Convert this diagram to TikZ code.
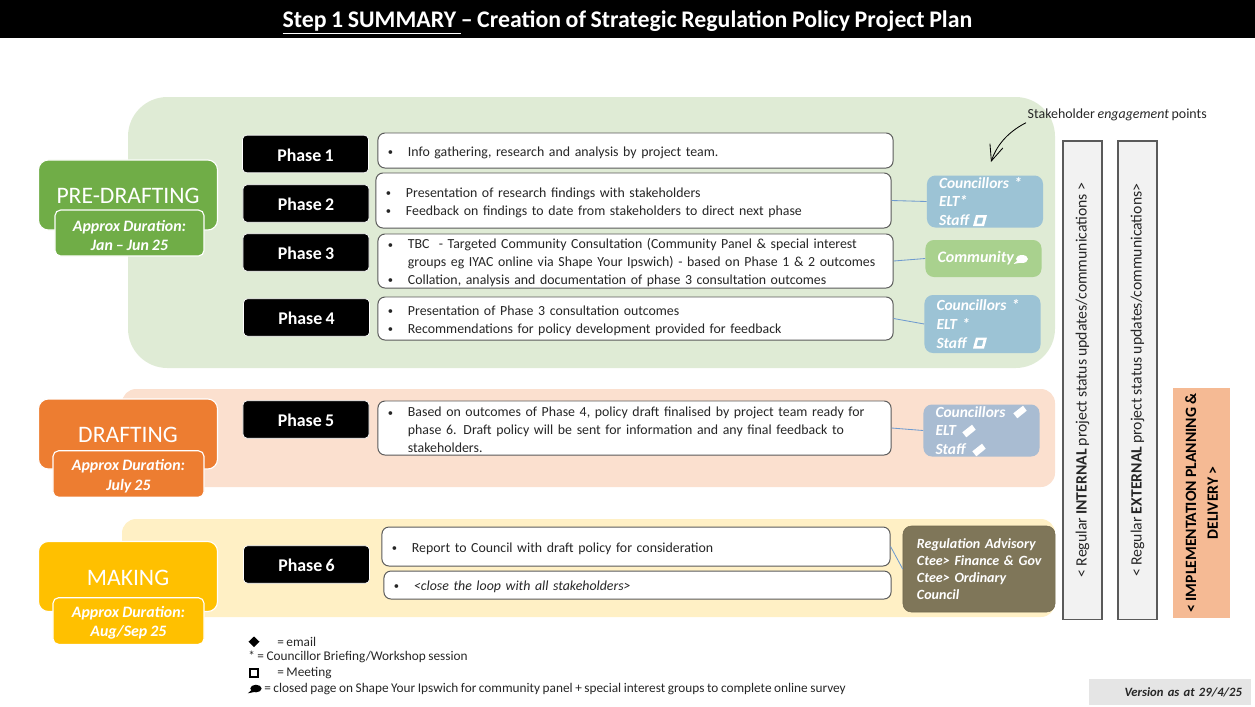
\documentclass[tikz,border=0pt]{standalone}
\usepackage{fontspec}
\setmainfont[WordSpace=0.85]{Carlito}
\usetikzlibrary{arrows.meta,positioning,calc}

\definecolor{panelgreen}{HTML}{DFEBD5}
\definecolor{panelpeach}{HTML}{FBE0CF}
\definecolor{panelyellow}{HTML}{FFF0C5}
\definecolor{stagegreen}{HTML}{70AD47}
\definecolor{stageorange}{HTML}{ED7D31}
\definecolor{stageyellow}{HTML}{FFC000}
\definecolor{stakeblue}{HTML}{9CC3D5}
\definecolor{stakegreen}{HTML}{A9D18E}
\definecolor{stakesteel}{HTML}{A9BCD2}
\definecolor{stakebrown}{HTML}{7F7659}
\definecolor{edgegray}{HTML}{5A5A5A}
\definecolor{linkblue}{HTML}{6F9BCF}
\definecolor{inkgray}{HTML}{262626}
\definecolor{implpeach}{HTML}{F5BA94}

\newcommand{\bul}{\makebox[0.5cm][l]{\fontsize{7.5}{8}\selectfont\raisebox{0.6pt}{\textbullet}}}
\newcommand{\nobul}{\hspace*{0.5cm}}
\newcommand{\durstrut}{\rule{0pt}{11pt}}

\tikzset{
    stagebox/.style={draw=white, line width=0.8pt, rounded corners=7pt, text=white,
        minimum width=4.475cm, minimum height=1.75cm, text height=12.3pt, text depth=0pt,
        font=\fontsize{16.8}{18}\selectfont},
    durationbox/.style={draw=white, line width=0.8pt, rounded corners=4pt, text=white, align=center,
        minimum height=1.15cm, font=\fontsize{11.3}{13.6}\selectfont\bfseries\itshape},
    phasebox/.style={draw=white, line width=0.5pt, fill=black, rounded corners=3pt, text=white,
        minimum width=3.15cm, minimum height=0.94cm, text height=10pt, text depth=0pt,
        font=\fontsize{12.7}{14}\selectfont\bfseries},
    infobox/.style={draw=edgegray, line width=0.7pt, fill=white, rounded corners=5pt, align=left,
        inner xsep=0.25cm, inner ysep=0pt, text width=12.375cm, text=inkgray,
        execute at begin node={\leavevmode\rule{0pt}{9.8pt}},
        font=\fontsize{9.85}{12.7}\selectfont},
    stakebox/.style={rounded corners=6pt, text=white, align=left, inner xsep=0.3cm, inner ysep=0pt,
        minimum height=1.3cm, text width=2.3cm, font=\fontsize{11}{13.3}\selectfont\bfseries\itshape},
    barbox/.style={draw=edgegray, line width=0.8pt, fill=black!5, rotate=90, text=inkgray,
        minimum width=11.95cm, minimum height=0.975cm, font=\fontsize{11.2}{13}\selectfont},
    legendtext/.style={anchor=west, inner sep=0pt, text=inkgray, font=\fontsize{9.45}{10}\selectfont},
    linkline/.style={draw=linkblue, line width=0.6pt},
    meetmark/.pic={\fill[even odd rule] (-7,5.5) -- (4,5.5) -- (7,-5.5) -- (-4,-5.5) -- cycle
        (-3.5,3) -- (2,3) -- (3.5,-3) -- (-2,-3) -- cycle;},
    mailmark/.pic={\fill (-6.7,1.3) -- (3,-6.3) -- (6.7,-1.3) -- (-2.7,6.3) -- cycle;},
    bubblemark/.pic={\fill (1,-0.5) ellipse (6 and 4);
        \fill (-3,0.5) -- (-7.5,4.5) -- (0,3) -- cycle;}
}

\begin{document}
\begin{tikzpicture}[x=0.025cm, y=-0.025cm]
    \useasboundingbox (0,0) rectangle (1255,706);

    % Title bar
    \node[fill=black, text=white, minimum width=31.375cm, minimum height=0.95cm, inner sep=0pt,
        text height=15pt, text depth=3.5pt,
        font=\fontsize{16.95}{18}\selectfont\bfseries] (title) at (627.5,19)
        {\underline{Step 1 SUMMARY\ }-- Creation of Strategic Regulation Policy Project Plan};

    % Background panels
    \fill[panelgreen, rounded corners=28pt] (128,97) rectangle (1055,368);
    \fill[panelpeach, rounded corners=10pt] (122,389) rectangle (1055,487);
    \fill[panelyellow, rounded corners=10pt] (122,519) rectangle (1055,617);

    % Stages on the left
    \node[stagebox, fill=stagegreen] (predraft) at (128,195) {PRE-DRAFTING};
    \node[durationbox, fill=stagegreen, minimum width=3.725cm] (predraftdur) at (129.5,233) {\durstrut Approx Duration:\\Jan -- Jun 25};

    \node[stagebox, fill=stageorange] (draft) at (128,434) {DRAFTING};
    \node[durationbox, fill=stageorange, minimum width=3.775cm] (draftdur) at (128.5,474) {\durstrut Approx Duration:\\July 25};

    \node[stagebox, fill=stageyellow] (making) at (128,576.5) {MAKING};
    \node[durationbox, fill=stageyellow, minimum width=3.775cm] (makingdur) at (128.5,621) {\durstrut Approx Duration:\\Aug/Sep 25};

    % Phase labels
    \node[phasebox] (phase1) at (305.5,154) {Phase 1};
    \node[phasebox] (phase2) at (306,203.5) {Phase 2};
    \node[phasebox] (phase3) at (306,252.5) {Phase 3};
    \node[phasebox] (phase4) at (306.5,317.5) {Phase 4};
    \node[phasebox] (phase5) at (306,419.5) {Phase 5};
    \node[phasebox] (phase6) at (306.5,564.5) {Phase 6};

    % Phase descriptions
    \node[infobox, minimum height=0.875cm] (info1) at (635.5,150.5) {\bul Info gathering, research and analysis by project team.};
    \node[infobox, minimum height=1.375cm] (info2) at (633.5,200.5) {\bul Presentation of research findings with stakeholders\\\bul Feedback on findings to date from stakeholders to direct next phase};
    \node[infobox, minimum height=1.35cm] (info3) at (635.5,261) {\bul TBC\ \ - Targeted Community Consultation (Community Panel \& special interest\\\nobul groups eg IYAC online via Shape Your Ipswich) - based on Phase 1 \& 2 outcomes\\\bul Collation, analysis and documentation of phase 3 consultation outcomes};
    \node[infobox, minimum height=1.075cm] (info4) at (635.5,318.5) {\bul Presentation of Phase 3 consultation outcomes\\\bul Recommendations for policy development provided for feedback};
    \node[infobox, minimum height=1.35cm, text width=12.325cm] (info5) at (634.5,428) {\bul Based on outcomes of Phase 4, policy draft finalised by project team ready for\\\nobul phase 6. Draft policy will be sent for information and any final feedback to\\\nobul stakeholders.};
    \node[infobox, minimum height=0.975cm, text width=12.2cm] (info6) at (636,546.5) {\bul Report to Council with draft policy for consideration};
    \node[infobox, minimum height=0.7cm, text width=12.175cm] (info7) at (637.5,585) {\bul \textit{<close the loop with all stakeholders>}};

    % Stakeholder engagement boxes
    \node[stakebox, fill=stakeblue, text width=2.3cm] (stake2) at (985,201.5) {Councillors *\\ELT*\\Staff};
    \node[stakebox, fill=stakegreen, minimum height=0.925cm, font=\fontsize{11.4}{13.3}\selectfont\bfseries\itshape] (stake3) at (983.5,258.5) {Community};
    \node[stakebox, fill=stakeblue, minimum height=1.45cm] (stake4) at (982.5,324) {Councillors *\\ELT *\\Staff};
    \node[stakebox, fill=stakesteel] (stake5) at (981.5,430.5) {Councillors\\ELT\\Staff};
    \node[stakebox, fill=stakebrown, draw=stakebrown!90!black, text width=3.1cm, minimum height=2.15cm, inner xsep=0.35cm,
        font=\fontsize{10}{12.2}\selectfont\bfseries\itshape] (stake6) at (979,569) {Regulation Advisory\\\mbox{Ctee> Finance \& Gov}\\Ctee> Ordinary\\Council};

    % Marks beside the names
    \pic[white] at (980,220.5) {meetmark};
    \pic[white] at (1021,259.5) {bubblemark};
    \pic[white] at (980,343) {meetmark};
    \pic[white] at (1020,412) {mailmark};
    \pic[white] at (969,431) {mailmark};
    \pic[white] at (979,450) {mailmark};

    % Links from descriptions to stakeholders
    \draw[linkline] (info2.east) -- (stake2.west);
    \draw[linkline] (info3.east) -- (stake3.west);
    \draw[linkline] (info4.east) -- (stake4.west);
    \draw[linkline] (info5.east) -- (stake5.west);
    \draw[linkline] (info6.east) -- (stake6.west);

    % Note with its arrow
    \node[anchor=west, inner sep=1pt, text=inkgray, font=\fontsize{9.9}{11}\selectfont] (engagenote) at (1026,115) {Stakeholder \textit{engagement} points};
    \coordinate (engagetip) at (991,162);
    \draw[-{Straight Barb[length=4mm,width=3.4mm]}, line width=0.6pt, black] (engagenote.south west) .. controls (1006,133) and (996,147) .. (engagetip);

    % Running bars on the right
    \node[barbox] (internalbar) at (1082.5,380) {< Regular \textbf{INTERNAL} project status updates/communications >};
    \node[barbox] (externalbar) at (1137.5,380) {< Regular \textbf{EXTERNAL} project status updates/communications>};
    \node[fill=implpeach, rotate=90, align=center, minimum width=5.75cm, minimum height=1.425cm, inner sep=0pt,
        font=\fontsize{11.2}{15.5}\selectfont\bfseries, text=black] (implbar) at (1201.5,503) {< IMPLEMENTATION PLANNING \&\\DELIVERY >};

    % Legend
    \fill[black] (254,636.5) -- (259.5,641.7) -- (254,647) -- (248.5,641.7) -- cycle;
    \node[legendtext] (legmail) at (277,641.7) {= email};
    \node[legendtext] (legbrief) at (248,657) {* = Councillor Briefing/Workshop session};
    \draw[black, line width=1.3pt] (250,669) rectangle (258,677);
    \node[legendtext] (legmeet) at (277,673) {= Meeting};
    \pic[black, scale=0.95] at (255,689) {bubblemark};
    \node[legendtext] (legpage) at (264,689) {= closed page on Shape Your Ipswich for community panel + special interest groups to complete online survey};

    % Version stamp
    \node[fill=black!10, minimum height=0.65cm, inner xsep=0.225cm, inner ysep=0pt, text width=3.6cm, align=right,
        font=\fontsize{9}{10}\selectfont\bfseries\itshape, text=inkgray] (version) at (1170,692) {Version as at 29/4/25};
\end{tikzpicture}
\end{document}
